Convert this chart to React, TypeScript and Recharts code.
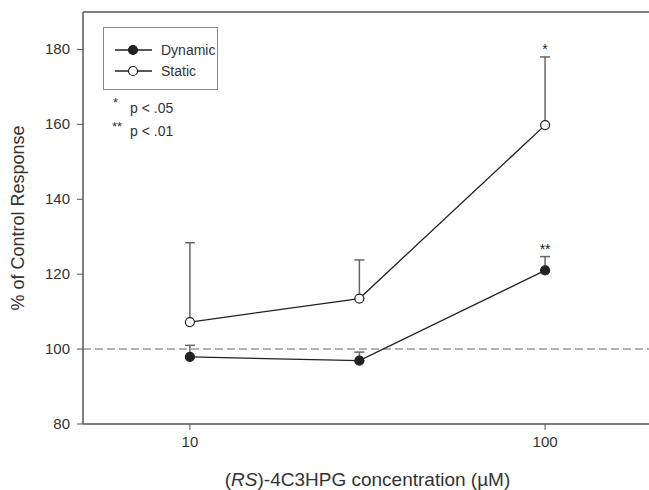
import React from "react";
import {
  LineChart,
  Line,
  XAxis,
  YAxis,
  ErrorBar,
  ReferenceLine,
  ReferenceDot,
  Legend,
} from "recharts";

const concentrations = [10, 30, 100];
const dynamicMeans = [97.9, 96.9, 121.0];
const dynamicSem = [3.1, 2.3, 3.7];
const staticMeans = [107.2, 113.5, 159.8];
const staticSem = [21.2, 10.3, 18.2];
const yTicks = [80, 100, 120, 140, 160, 180];
const xTicks = [10, 100];
const stars = [
  { conc: 100, top: 178.0, text: "*" },
  { conc: 100, top: 124.7, text: "**" },
];

const data = concentrations.map((c, i) => ({
  conc: c,
  dynamic: dynamicMeans[i],
  dynamicErr: [0, dynamicSem[i]],
  static: staticMeans[i],
  staticErr: [0, staticSem[i]],
}));

const FONT = "'Liberation Sans', Arial, Helvetica, sans-serif";
const INK = "#222";
const TEXT = "#333";
const AXIS = "#555";

function LegendBox() {
  const row = (label: string, filled: boolean) => (
    <div style={{ display: "flex", alignItems: "center", height: 21 }}>
      <svg width={40} height={12} style={{ marginLeft: 11 }}>
        <line x1={0} y1={6} x2={37} y2={6} stroke={INK} strokeWidth={1.3} />
        <circle cx={18} cy={6} r={4.5} fill={filled ? INK : "#fff"} stroke={INK} strokeWidth={1.2} />
      </svg>
      <span style={{ marginLeft: 6, fontSize: 14, color: TEXT }}>{label}</span>
    </div>
  );
  return (
    <div style={{ position: "relative", fontFamily: FONT, width: 130, height: 120 }}>
      <div
        style={{
          position: "absolute",
          left: 0,
          top: 0,
          width: 115,
          height: 63,
          border: "1.5px solid #888",
          paddingTop: 11,
          boxSizing: "border-box",
        }}
      >
        {row("Dynamic", true)}
        {row("Static", false)}
      </div>
      <span style={{ position: "absolute", left: 10, top: 68, fontSize: 13, color: TEXT }}>*</span>
      <span style={{ position: "absolute", left: 27, top: 73, fontSize: 14, color: TEXT }}>p &lt; .05</span>
      <span style={{ position: "absolute", left: 9, top: 92, fontSize: 13, color: TEXT }}>**</span>
      <span style={{ position: "absolute", left: 27, top: 96, fontSize: 14, color: TEXT }}>p &lt; .01</span>
    </div>
  );
}

function XLabel({ viewBox }: any) {
  return (
    <text x={viewBox.x + viewBox.width / 2} y={viewBox.y + 62} textAnchor="middle" fontSize={19} fill={TEXT} fontFamily={FONT}>
      (<tspan fontStyle="italic">RS</tspan>)-4C3HPG concentration (µM)
    </text>
  );
}

function YLabel({ viewBox }: any) {
  const x = viewBox.x + 18;
  const y = viewBox.y + viewBox.height / 2;
  return (
    <text x={x} y={y} transform={`rotate(-90 ${x} ${y})`} textAnchor="middle" dominantBaseline="central" fontSize={18} fill={TEXT} fontFamily={FONT}>
      % of Control Response
    </text>
  );
}

function XTick({ x, y, payload }: any) {
  return (
    <text x={x} y={y + 11} textAnchor="middle" fontSize={15} fill={TEXT} fontFamily={FONT}>
      {payload.value}
    </text>
  );
}

function YTick({ x, y, payload }: any) {
  return (
    <text x={x} y={y + 5} textAnchor="end" fontSize={15} fill={TEXT} fontFamily={FONT}>
      {payload.value}
    </text>
  );
}

const starShape = (text: string) => (props: any) => (
  <text x={props.cx} y={props.cy - 3} textAnchor="middle" fontSize={14} fill={INK} fontFamily={FONT}>
    {text}
  </text>
);

export default function App() {
  return (
    <div style={{ position: "fixed", left: 0, top: 0, width: 649, height: 490, overflow: "hidden", background: "#fff", fontFamily: FONT }}>
      <LineChart width={660} height={490} data={data} margin={{ top: 12, right: 8, bottom: 0, left: 0 }}>
        <XAxis
          dataKey="conc"
          type="number"
          scale="log"
          domain={[5, 200]}
          ticks={xTicks}
          allowDataOverflow
          height={66}
          tickSize={6}
          tickMargin={6}
          tick={<XTick />}
          axisLine={{ stroke: AXIS, strokeWidth: 1.5 }}
          tickLine={{ stroke: AXIS }}
          label={<XLabel />}
        />
        <YAxis
          type="number"
          domain={[80, 190]}
          ticks={yTicks}
          allowDataOverflow
          width={83}
          tickSize={6}
          tickMargin={7}
          tick={<YTick />}
          axisLine={{ stroke: AXIS, strokeWidth: 1.5 }}
          tickLine={{ stroke: AXIS }}
          label={<YLabel />}
        />
        <ReferenceLine y={190} stroke={AXIS} strokeWidth={1.5} />
        <ReferenceLine y={100} stroke="#b3b3b3" strokeWidth={2} strokeDasharray="8 4" />
        <Legend
          layout="vertical"
          align="center"
          verticalAlign="middle"
          wrapperStyle={{ left: 103, top: 27, width: 130 }}
          content={() => <LegendBox />}
        />
        <Line
          dataKey="static"
          stroke={INK}
          strokeWidth={1.3}
          isAnimationActive={false}
          dot={{ r: 4.5, fill: "#fff", stroke: INK, strokeWidth: 1.2 }}
          legendType="none"
        >
          <ErrorBar dataKey="staticErr" direction="y" width={5} stroke="#666" strokeWidth={1.5} isAnimationActive={false} />
        </Line>
        <Line
          dataKey="dynamic"
          stroke={INK}
          strokeWidth={1.3}
          isAnimationActive={false}
          dot={{ r: 4.5, fill: INK, stroke: INK, strokeWidth: 1.2 }}
          legendType="none"
        >
          <ErrorBar dataKey="dynamicErr" direction="y" width={5} stroke="#666" strokeWidth={1.5} isAnimationActive={false} />
        </Line>
        {stars.map((s, i) => (
          <ReferenceDot key={i} x={s.conc} y={s.top} r={0} shape={starShape(s.text)} />
        ))}
      </LineChart>
    </div>
  );
}
